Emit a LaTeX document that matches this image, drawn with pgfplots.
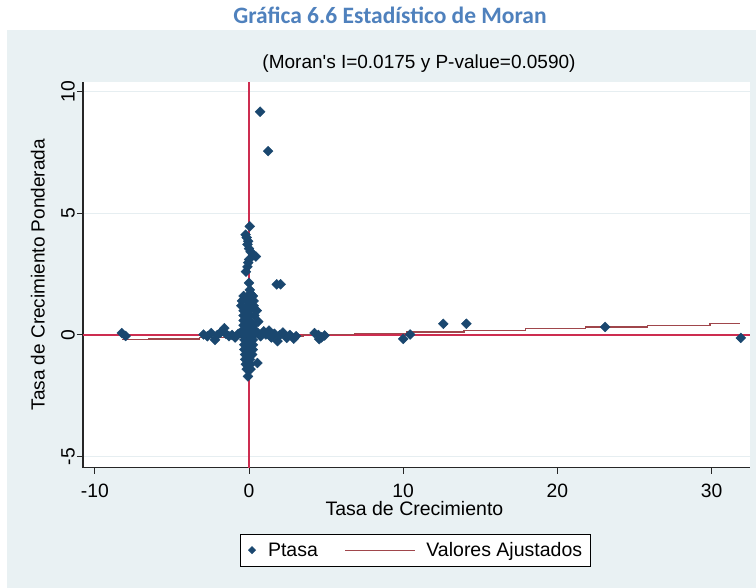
\documentclass[border=0pt]{standalone}
\usepackage{fontspec}
\setmainfont{Liberation Sans}
\newfontfamily\lsplain{Liberation Sans}
\newfontfamily\calibri{Carlito}
\usepackage{pgfplots}
\usepackage{pgfplotstable}
\pgfplotsset{compat=1.18}
\definecolor{panel}{RGB}{233,241,243}
\definecolor{titleblue}{RGB}{79,129,189}
\definecolor{stnavy}{RGB}{26,71,111}
\definecolor{refred}{RGB}{205,45,80}
\definecolor{stmaroon}{RGB}{160,70,75}
\definecolor{gridc}{RGB}{230,238,241}

\pgfplotsset{
  ptasaleg/.style={legend image code/.code={\path[draw=none,fill=none] (0pt,0pt) -- (20pt,0pt); \draw[##1, mark size=2.4pt] plot coordinates {(6pt,0pt)};}},
  fitleg/.style={legend image code/.code={\draw[##1, line width=1pt] (0pt,0pt) -- (70pt,0pt); \path[draw=none,fill=none] (70pt,0pt) -- (79pt,0pt);}},
}

\pgfplotstableread{
x y
0.72 9.17
1.24 7.55
1.80 2.08
2.05 2.08
-8.25 0.08
-8.00 -0.04
4.25 0.08
4.50 0.00
4.70 -0.10
4.90 -0.02
4.55 -0.17
10.00 -0.16
10.45 0.02
12.60 0.46
14.10 0.46
23.10 0.33
31.90 -0.12
0.05 4.46
-0.22 4.12
-0.15 4.00
-0.05 3.85
-0.10 3.72
0.00 3.55
0.10 3.42
0.45 3.22
0.30 3.28
0.00 3.10
-0.05 2.97
-0.10 2.80
-0.20 2.60
0.00 2.14
0.05 1.85
0.10 1.70
-0.35 1.60
-0.05 1.60
0.25 1.60
-0.45 1.40
-0.05 1.40
0.30 1.40
-0.50 1.20
-0.10 1.20
0.30 1.20
-0.35 1.00
0.00 1.00
0.50 1.00
-0.35 0.80
0.00 0.80
0.35 0.80
-0.35 0.60
0.00 0.60
0.60 0.55
-0.35 0.40
0.00 0.40
0.30 0.40
-0.35 0.20
0.00 0.20
0.35 0.20
-0.35 0.00
0.00 0.00
0.30 0.00
-0.30 -0.20
0.00 -0.20
0.25 -0.20
-0.30 -0.40
0.00 -0.40
0.25 -0.40
-0.30 -0.60
0.00 -0.60
0.25 -0.60
-0.25 -0.80
0.00 -0.80
0.20 -0.80
-0.25 -1.00
0.05 -1.00
0.55 -1.15
-0.20 -1.20
0.10 -1.20
-0.15 -1.40
0.10 -1.40
-0.07 -1.70
-2.95 0.02
-2.70 -0.05
-2.45 0.08
-2.20 -0.20
-2.05 0.00
-1.85 0.10
-1.60 0.28
-1.50 0.05
-1.30 -0.05
-1.10 0.00
-0.90 -0.10
-0.70 0.05
-0.55 0.10
0.55 0.10
0.75 -0.05
0.95 0.15
1.10 0.02
1.30 0.18
1.45 -0.10
1.65 0.05
1.85 -0.25
2.00 0.00
2.20 0.10
2.45 -0.12
2.65 0.00
2.90 -0.15
3.05 -0.05
}\ptasa

\pgfplotstableread{
x y
-8.21 -0.19
-6.51 -0.16
-3.19 -0.106
0.26 -0.045
3.52 0.012
6.84 0.070
10.23 0.129
13.94 0.194
17.92 0.264
21.82 0.332
25.86 0.403
29.90 0.473
31.86 0.473
}\fitted

\begin{document}
\begin{tikzpicture}[x=1pt,y=1pt]
\useasboundingbox (0,0) rectangle (756,588);
\fill[white] (0,0) rectangle (756,588);
\fill[panel] (7,0) rectangle (756,558);
\begin{axis}[
  at={(249pt,253pt)}, anchor=origin,
  scale only axis, width=667pt, height=386pt,
  xmin=-10.77, xmax=32.49, ymin=-5.45, ymax=10.4,
  axis x line*=bottom, axis y line*=left,
  axis line style={black!85, line width=1.2pt, -},
  tick align=outside, major tick length=6pt,
  tick style={black!85, line width=1pt},
  xtick={-10,0,10,20,30}, ytick={-5,0,5,10},
  minor tick num=0,
  ymajorgrids, grid style={gridc, line width=1pt},
  axis background/.style={fill=white},
  /pgf/number format/assume math mode=true,
  every tick label/.append style={font=\fontsize{19.3}{22}\selectfont},
  yticklabel style={rotate=90, anchor=south, yshift=-1.5pt},
  xticklabel style={yshift=-7pt},
  xlabel={Tasa de Crecimiento},
  ylabel={Tasa de Crecimiento Ponderada},
  xlabel style={at={(axis description cs:0.497,0)}, anchor=center, yshift=-41pt, font=\fontsize{19.5}{22}\selectfont},
  ylabel style={at={(axis description cs:0,0.5)}, anchor=center, yshift=45pt, font=\fontsize{19}{22}\selectfont},
  legend columns=2,
  legend style={at={(axis description cs:0.498,-0.2135)}, anchor=center, draw=black, line width=0.8pt, fill=white,
    font=\fontsize{19.5}{22}\selectfont, inner xsep=6pt, inner ysep=6pt,
    /tikz/every even column/.append style={column sep=25pt}},
  clip=false,
]
\addplot[refred, line width=1.4pt, forget plot] coordinates {(-10.77,0) (32.49,0)};
\addplot[refred, line width=1.4pt, forget plot] coordinates {(0,-5.45) (0,10.4)};
\addplot[only marks, mark=square*, mark size=3.5pt,
  mark options={rotate=45, fill=stnavy, draw=stnavy}, ptasaleg]
  table[x=x,y=y] {\ptasa};
\addlegendentry{Ptasa}
\addplot[const plot, stmaroon, line width=1.3pt, no marks, fitleg]
  table[x=x,y=y] {\fitted};
\addlegendentry{Valores Ajustados}
\end{axis}
\node[font=\calibri\bfseries\fontsize{23.5}{26}\selectfont, text=titleblue] at (390,573) {Gráfica 6.6 Estadístico de Moran};
\node[font=\lsplain\fontsize{19}{22}\selectfont] at (419,524) {(Moran's I=0.0175 y P-value=0.0590)};
\end{tikzpicture}
\end{document}
